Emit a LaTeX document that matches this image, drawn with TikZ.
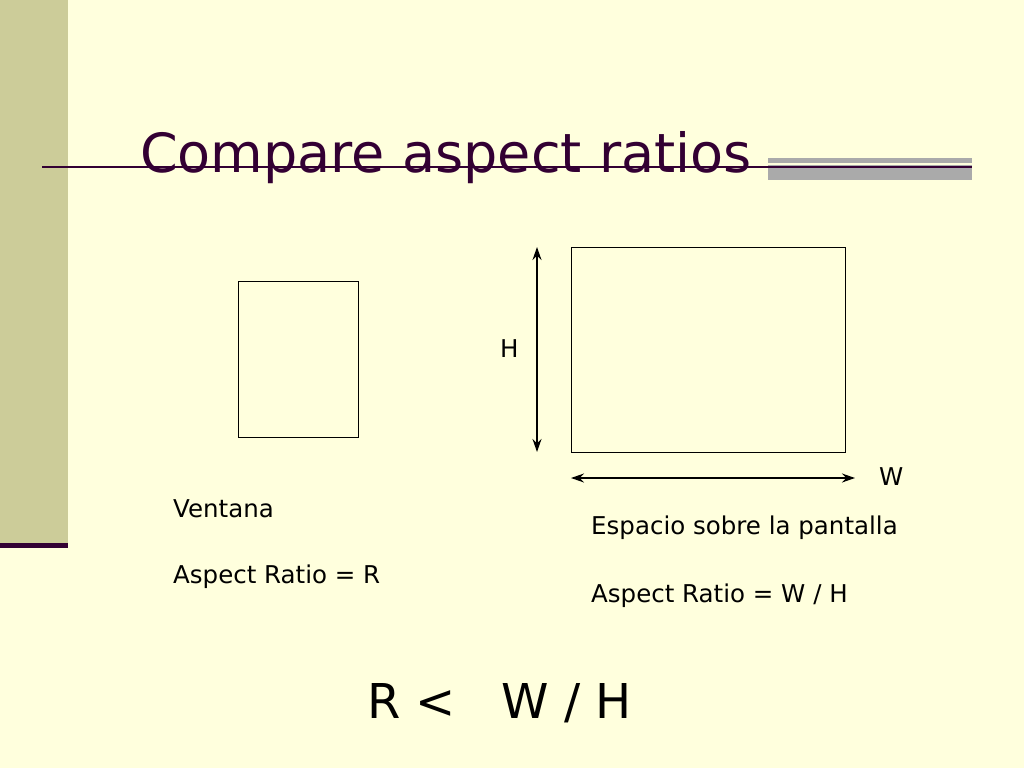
\documentclass[tikz,border=0pt]{standalone}
\usepackage{fontspec}
\setmainfont{DejaVu Sans}
\usetikzlibrary{arrows.meta}
\definecolor{bg}{RGB}{255,255,221}
\definecolor{bar}{RGB}{204,204,153}
\definecolor{dk}{RGB}{51,0,51}
\definecolor{gr}{RGB}{170,170,170}
\begin{document}
\begin{tikzpicture}[x=1pt,y=-1pt,
 txt/.style={anchor=west,inner sep=0,font=\fontsize{24.5}{28}\selectfont},
 box/.style={draw,line width=1.2pt},
 dim/.style={{Stealth[length=13pt,width=9pt]}-{Stealth[length=13pt,width=9pt]},line width=1.5pt}]
\fill[bg] (0,0) rectangle (1024,768);
\useasboundingbox (0,0) rectangle (1024,768);
\fill[bar] (0,0) rectangle (68,543);
\fill[dk] (0,543) rectangle (68,548);
\fill[gr] (768,158) rectangle (972,180);
\fill[bg] (768,163) rectangle (972,165);
\draw[dk,line width=2pt] (42,167) -- (972,167);
\node[anchor=west,inner sep=0,text=dk,font=\fontsize{54}{58}\selectfont] (title) at (140,158) {Compare aspect ratios};
\node[box,minimum width=120,minimum height=156,anchor=north west] (win) at (238,281) {};
\node[box,minimum width=274,minimum height=205,anchor=north west] (scr) at (571,247) {};
\coordinate (vt) at (537,247); \coordinate (vb) at (537,452);
\draw[dim] (vt) -- (vb);
\coordinate (hl) at (571,478); \coordinate (hr) at (855,478);
\draw[dim] (hl) -- (hr);
\node[txt] (h) at (500,349) {H};
\node[txt] (w) at (879,477) {W};
\node[txt] (v) at (173,509) {Ventana};
\node[txt] (ar) at (173,577) {Aspect Ratio = R};
\node[txt] (e) at (591,528) {Espacio sobre la pantalla};
\node[txt] (ar2) at (591,596) {Aspect Ratio = W / H};
\node[anchor=west,inner sep=0,font=\fontsize{48}{52}\selectfont] (cmp) at (367,703) {R <\ \ \ W / H};
\end{tikzpicture}
\end{document}
